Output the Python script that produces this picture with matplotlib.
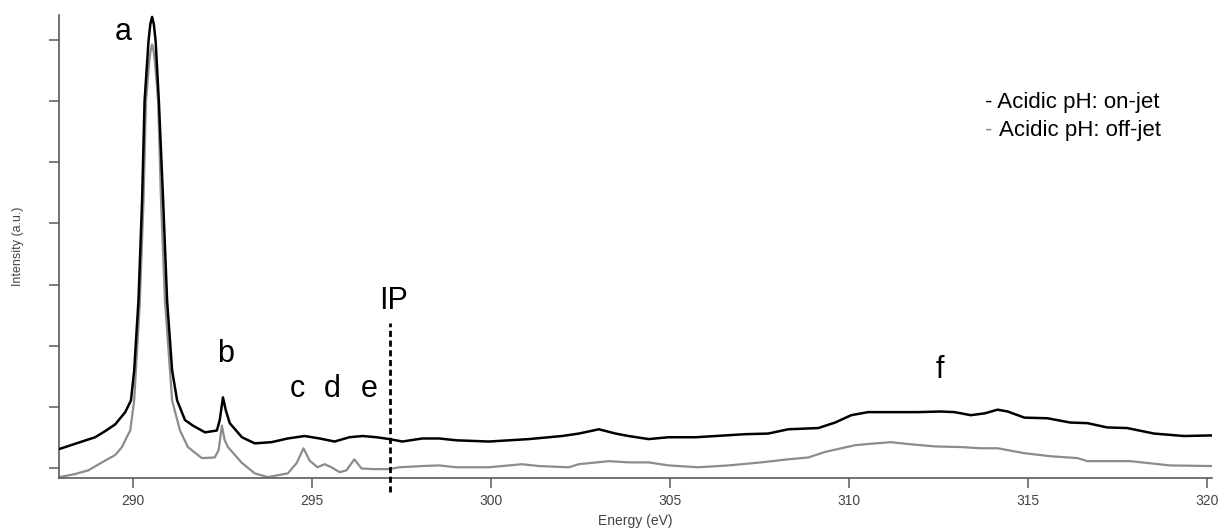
import matplotlib
matplotlib.use("Agg")
import matplotlib.pyplot as plt

plt.rcParams['font.family'] = ['Liberation Sans', 'DejaVu Sans']

# on-jet spectrum (black), energy in eV, intensity in a.u.
on_jet_energy = [287.95, 288.52, 288.94, 289.22, 289.50, 289.64, 289.78, 289.94, 290.03, 290.15,
                 290.25, 290.32, 290.43, 290.48, 290.53, 290.58, 290.63, 290.72, 290.84, 290.95,
                 291.09, 291.23, 291.45, 291.67, 292.01, 292.34, 292.42, 292.51, 292.59,
                 292.70, 293.04, 293.40, 293.87, 294.32, 294.79, 295.21, 295.63, 296.04, 296.41,
                 296.80, 297.16, 297.52, 298.08, 298.55, 299.03, 299.94, 301.06, 301.98, 302.45,
                 303.01, 303.48, 303.84, 304.40, 304.96, 305.71, 306.27, 307.10, 307.74, 308.30,
                 309.14, 309.61, 310.06, 310.53, 311.17, 311.92, 312.56, 312.95, 313.40, 313.79,
                 314.15, 314.43, 314.90, 315.54, 316.18, 316.66, 317.21, 317.77, 318.52, 319.36,
                 320.14]
on_jet_intensity = [0.32, 0.43, 0.51, 0.61, 0.72, 0.82, 0.92, 1.11, 1.60, 2.74,
                    4.36, 5.99, 6.97, 7.25, 7.37, 7.25, 6.97, 5.99, 4.36, 2.74,
                    1.60, 1.11, 0.79, 0.70, 0.59, 0.62, 0.79, 1.16, 0.95,
                    0.74, 0.51, 0.41, 0.43, 0.49, 0.53, 0.49, 0.44, 0.51, 0.53,
                    0.51, 0.48, 0.44, 0.49, 0.49, 0.46, 0.44, 0.48, 0.53, 0.57,
                    0.64, 0.57, 0.53, 0.48, 0.51, 0.51, 0.53, 0.56, 0.57, 0.64,
                    0.66, 0.75, 0.87, 0.92, 0.92, 0.92, 0.93, 0.92, 0.87, 0.90,
                    0.96, 0.93, 0.83, 0.82, 0.75, 0.74, 0.67, 0.66, 0.57, 0.53,
                    0.54]

# off-jet spectrum (grey)
off_jet_energy = [287.95, 288.38, 288.75, 289.22, 289.50, 289.69, 289.83, 289.92, 290.03, 290.19,
                  290.29, 290.36, 290.45, 290.49, 290.53, 290.57, 290.61, 290.70, 290.78, 290.89,
                  291.09, 291.31, 291.45, 291.53, 291.92, 292.28, 292.39, 292.48,
                  292.56, 292.65, 293.04, 293.40, 293.76, 294.32, 294.57, 294.76, 294.93, 295.15,
                  295.35, 295.54, 295.77, 295.96, 296.18, 296.38, 296.69, 297.16, 297.44, 298.08,
                  298.55, 299.03, 299.94, 300.86, 301.34, 302.17, 302.45, 303.29, 303.84, 304.40,
                  304.96, 305.79, 306.63, 307.55, 308.30, 308.86, 309.33, 309.78, 310.17, 310.53,
                  311.17, 311.64, 312.40, 313.12, 313.68, 314.15, 314.71, 314.90, 315.63, 316.38,
                  316.66, 317.86, 318.33, 318.97, 320.14]
off_jet_intensity = [-0.14, -0.09, -0.03, 0.13, 0.22, 0.35, 0.52, 0.62, 1.11, 2.74,
                     4.36, 5.99, 6.64, 6.82, 6.92, 6.82, 6.64, 5.99, 4.36, 2.74,
                     1.11, 0.62, 0.45, 0.35, 0.17, 0.18, 0.30, 0.70,
                     0.46, 0.35, 0.09, -0.08, -0.14, -0.08, 0.09, 0.33, 0.13, 0.02,
                     0.07, 0.02, -0.06, -0.03, 0.15, 0.00, -0.01, -0.01, 0.02, 0.04,
                     0.05, 0.02, 0.02, 0.07, 0.04, 0.02, 0.07, 0.12, 0.10, 0.10,
                     0.05, 0.02, 0.05, 0.10, 0.15, 0.18, 0.27, 0.33, 0.38, 0.40,
                     0.43, 0.40, 0.36, 0.35, 0.33, 0.33, 0.27, 0.25, 0.20, 0.17,
                     0.12, 0.12, 0.09, 0.05, 0.04]

peak_labels = ['a', 'b', 'c', 'd', 'e', 'f']
peak_label_x = [289.72, 292.59, 294.60, 295.57, 296.60, 312.53]
peak_label_y = [7.13, 1.87, 1.30, 1.30, 1.30, 1.60]

ip_energy = 297.19
x_ticks = [290, 295, 300, 305, 310, 315, 320]
y_ticks = [0, 1, 2, 3, 4, 5, 6, 7]

axis_grey = '#5a5a5a'
label_grey = '#444444'
off_grey = '#8c8c8c'

fig = plt.figure(figsize=(12.19, 5.29), dpi=100)
ax = fig.add_axes([0.0484, 0.097, 0.9459, 0.8745])

ax.plot(off_jet_energy, off_jet_intensity, color=off_grey, lw=1.6, zorder=2)
ax.plot(on_jet_energy, on_jet_intensity, color='black', lw=1.8, zorder=3)

for lab, x, y in zip(peak_labels, peak_label_x, peak_label_y):
    ax.text(x, y, lab, fontsize=22, ha='center', va='center')

# ionisation potential marker
ax.plot([ip_energy, ip_energy], [-0.385, 2.38], color='black', lw=2, ls=(0, (2.2, 1.3)),
        clip_on=False, zorder=4)
ax.text(ip_energy + 0.08, 2.74, 'IP', fontsize=22, ha='center', va='center')

# legend as plain text, dash coloured like the line
ax.text(0.803, 0.811, '- Acidic pH: on-jet', transform=ax.transAxes, fontsize=16,
        color='black', ha='left', va='center')
dash = ax.text(0.803, 0.751, '-', transform=ax.transAxes, fontsize=16,
               color=off_grey, ha='left', va='center')
ax.annotate('Acidic pH: off-jet', xy=(1, 0.5), xycoords=dash, xytext=(4.5, 0),
            textcoords='offset points', fontsize=16, color='black', ha='left', va='center')

ax.set_xlim(287.93, 320.14)
ax.set_ylim(-0.15, 7.4)
ax.set_xticks(x_ticks)
ax.set_yticks(y_ticks)
ax.set_yticklabels([])

for side in ['top', 'right']:
    ax.spines[side].set_visible(False)
for side in ['left', 'bottom']:
    ax.spines[side].set_color(axis_grey)
    ax.spines[side].set_linewidth(1.2)
ax.tick_params(axis='both', colors=axis_grey, length=7, width=1.1, labelsize=10,
               labelcolor=label_grey)
ax.tick_params(axis='x', pad=5)

ax.set_xlabel('Energy (eV)', fontsize=10, color=label_grey)
ax.xaxis.set_label_coords(0.5, -0.094)
ax.xaxis.label.set_va('center')
ax.set_ylabel('Intensity (a.u.)', fontsize=9, color=label_grey)
ax.yaxis.set_label_coords(-0.0356, 0.5)
ax.yaxis.label.set_va('center')

fig.savefig('out.png', dpi=100)
